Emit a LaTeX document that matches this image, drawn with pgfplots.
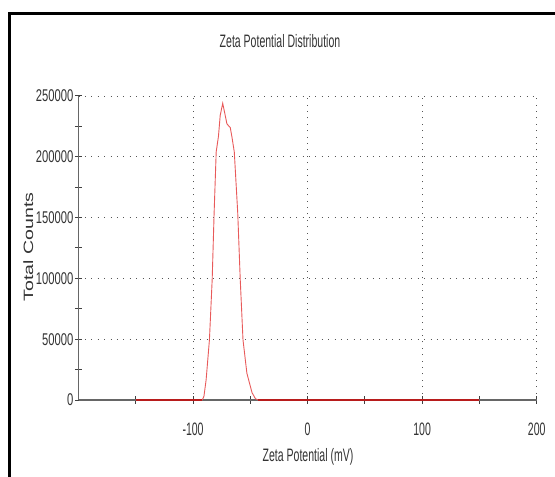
\documentclass[border=0pt]{standalone}
\usepackage{pgfplots}
\pgfplotsset{compat=1.18}
\usepackage{pgfplotstable}
\usepackage{fontspec}
\setmainfont{Liberation Sans}
\newfontfamily\narrowfont{Liberation Sans}[FakeStretch=0.585]
\newfontfamily\ytfont{Liberation Sans}[FakeStretch=0.66]
\newfontfamily\tallfont{Liberation Sans}[FakeStretch=1.45]
\definecolor{txt}{HTML}{333333}
\definecolor{axgray}{HTML}{666666}
\definecolor{gridgray}{HTML}{555555}
\definecolor{darkred}{HTML}{B81C1C}
\definecolor{lightred}{HTML}{E85A5A}

\pgfplotstableread{
x y
-150 0
-92 0
-90.5 3000
-88.6 16500
-85.7 49500
-83.3 99000
-81.6 154000
-79.8 204000
-77.8 217000
-76.3 234000
-74.1 244000
-70.4 227000
-67.5 224000
-66 216000
-64 204000
-61 154000
-58.8 99000
-56.4 49500
-53 22000
-48.5 6000
-45.5 1000
-43 0
150 0
}\zetadata

\pgfplotstableread{
x y
-150 0
-92 0
}\leftflat

\pgfplotstableread{
x y
-43 0
150 0
}\rightflat

\begin{document}
\begin{tikzpicture}
\useasboundingbox (0,0) rectangle (555bp,477bp);
\draw[line width=3.3bp, line join=miter] (9.6bp,-5bp) -- (9.6bp,463.4bp) -- (560bp,463.4bp);
\begin{axis}[
  at={(78.5bp,77bp)}, anchor=south west,
  scale only axis, width=458.2bp, height=304bp,
  xmin=-200, xmax=200, ymin=0, ymax=250000,
  axis lines*=left,
  axis line style={axgray, line width=1.1bp},
  xtick={-100,0,100,200}, minor xtick={-150,-50,50,150},
  xticklabels={{-100},0,100,200},
  ytick={0,50000,100000,150000,200000,250000},
  yticklabels={0,50000,100000,150000,200000,250000},
  minor ytick={25000,75000,125000,175000,225000},
  tick align=center,
  major tick length=7bp, minor tick length=7bp,
  every tick/.style={black!75, line width=1bp},
  xmajorgrids, ymajorgrids,
  major grid style={gridgray, line width=0.9bp, dash pattern=on 0.9bp off 5.5bp},
  scaled y ticks=false,
  xticklabel style={font={\narrowfont\fontsize{18bp}{21bp}\selectfont}, text=txt, anchor=base, yshift=-32bp},
  yticklabel style={font={\ytfont\fontsize{17bp}{20bp}\selectfont}, text=txt, anchor=east, inner sep=0pt, xshift=-1.5bp},
  clip=false,
]
\addplot[lightred, line width=0.9bp] table {\zetadata};
\addplot[darkred, line width=2.6bp] table {\leftflat};
\addplot[darkred, line width=2.6bp] table {\rightflat};
\end{axis}
\node[anchor=base, text=txt, font={\narrowfont\fontsize{18bp}{21bp}\selectfont}] at (280bp,429bp) {Zeta Potential Distribution};
\node[anchor=base, text=txt, font={\narrowfont\fontsize{18bp}{21bp}\selectfont}] at (308bp,16bp) {Zeta Potential (mV)};
\node[anchor=base, rotate=90, text=txt, font={\tallfont\fontsize{13.5bp}{16bp}\selectfont}] at (33bp,230bp) {Total Counts};
\end{tikzpicture}
\end{document}
